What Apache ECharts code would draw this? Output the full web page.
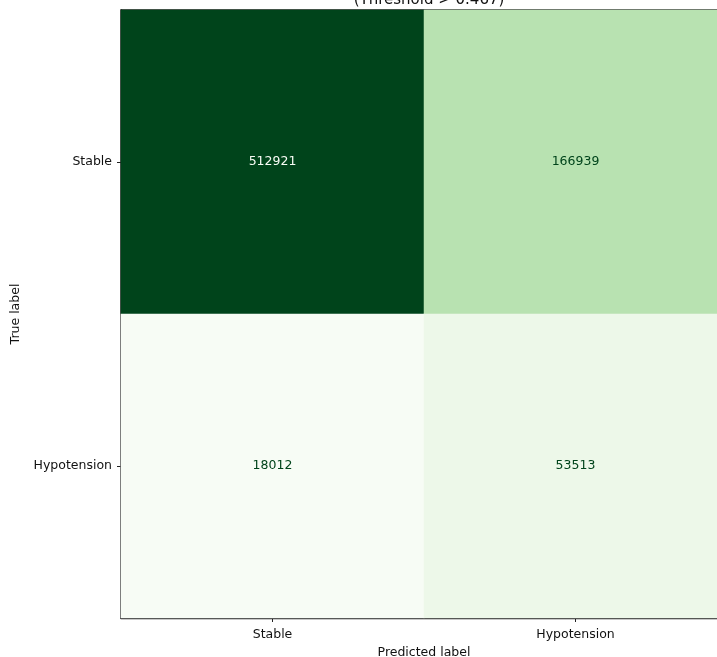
<!DOCTYPE html>
<html>
<head>
<meta charset="utf-8">
<script src="https://cdn.jsdelivr.net/npm/echarts@6/dist/echarts.min.js"></script>
<style>
  html, body { margin: 0; padding: 0; background: #ffffff; }
  #chart { width: 717px; height: 657px; }
</style>
</head>
<body>
<div id="chart"></div>
<script>
// Confusion matrix of the hypotension classifier
const predictedLabels = ['Stable', 'Hypotension'];
const trueLabels = ['Stable', 'Hypotension'];
// counts[row = true label][col = predicted label]
const countsStable = [512921, 166939];
const countsHypotension = [18012, 53513];
const titleText = '(Threshold > 0.467)';

// Matplotlib "Greens" colour map stops
const greens = ['#f7fcf5', '#e5f5e0', '#c7e9c0', '#a1d99b', '#74c476',
                '#41ab5d', '#238b45', '#006d2c', '#00441b'];

const rows = [countsStable, countsHypotension];
const allValues = rows.flat();
const vmin = Math.min(...allValues);
const vmax = Math.max(...allValues);
const mid = (vmin + vmax) / 2;

const cells = [];
rows.forEach((row, r) => {
  row.forEach((v, c) => {
    cells.push({
      value: [c, r, v],
      label: { color: v > mid ? greens[0] : greens[greens.length - 1] }
    });
  });
});

const font = 'DejaVu Sans';
const chart = echarts.init(document.getElementById('chart'), null, { renderer: 'canvas' });
chart.setOption({
  animation: false,
  backgroundColor: '#ffffff',
  title: {
    text: titleText,
    left: 424,
    textAlign: 'center',
    top: -13,
    textStyle: { fontFamily: font, fontSize: 15, fontWeight: 'normal', color: '#111', lineHeight: 16 }
  },
  grid: {
    left: 121, top: 10, right: -10, bottom: 39,
    outerBoundsMode: 'none',
    show: true, borderColor: '#222', borderWidth: 1.4, backgroundColor: 'transparent',
    containLabel: false
  },
  xAxis: {
    type: 'category',
    data: predictedLabels,
    position: 'bottom',
    name: 'Predicted label',
    nameLocation: 'middle',
    nameGap: 23,
    nameTextStyle: { fontFamily: font, fontSize: 12.5, color: '#111' },
    axisLine: { show: true, lineStyle: { color: '#222', width: 1.4 } },
    axisTick: { show: true, alignWithLabel: true, length: 4, lineStyle: { color: '#222' } },
    axisLabel: { fontFamily: font, fontSize: 12.5, color: '#111', margin: 10 },
    splitLine: { show: false }
  },
  yAxis: {
    type: 'category',
    data: trueLabels,
    inverse: true,
    name: 'True label',
    nameLocation: 'middle',
    nameGap: 93,
    nameRotate: 90,
    nameTextStyle: { fontFamily: font, fontSize: 12.5, color: '#111' },
    axisLine: { show: true, lineStyle: { color: '#222', width: 1.4 } },
    axisTick: { show: true, alignWithLabel: true, length: 4, lineStyle: { color: '#222' } },
    axisLabel: { fontFamily: font, fontSize: 12.5, color: '#111', margin: 9 },
    splitLine: { show: false }
  },
  visualMap: {
    show: false,
    type: 'continuous',
    min: vmin,
    max: vmax,
    dimension: 2,
    inRange: { color: greens }
  },
  series: [{
    type: 'heatmap',
    data: cells,
    label: {
      show: true,
      fontFamily: font,
      fontSize: 12.5,
      formatter: p => String(p.value[2])
    },
    itemStyle: { borderWidth: 0 },
    emphasis: { disabled: true }
  }]
});
</script>
</body>
</html>
